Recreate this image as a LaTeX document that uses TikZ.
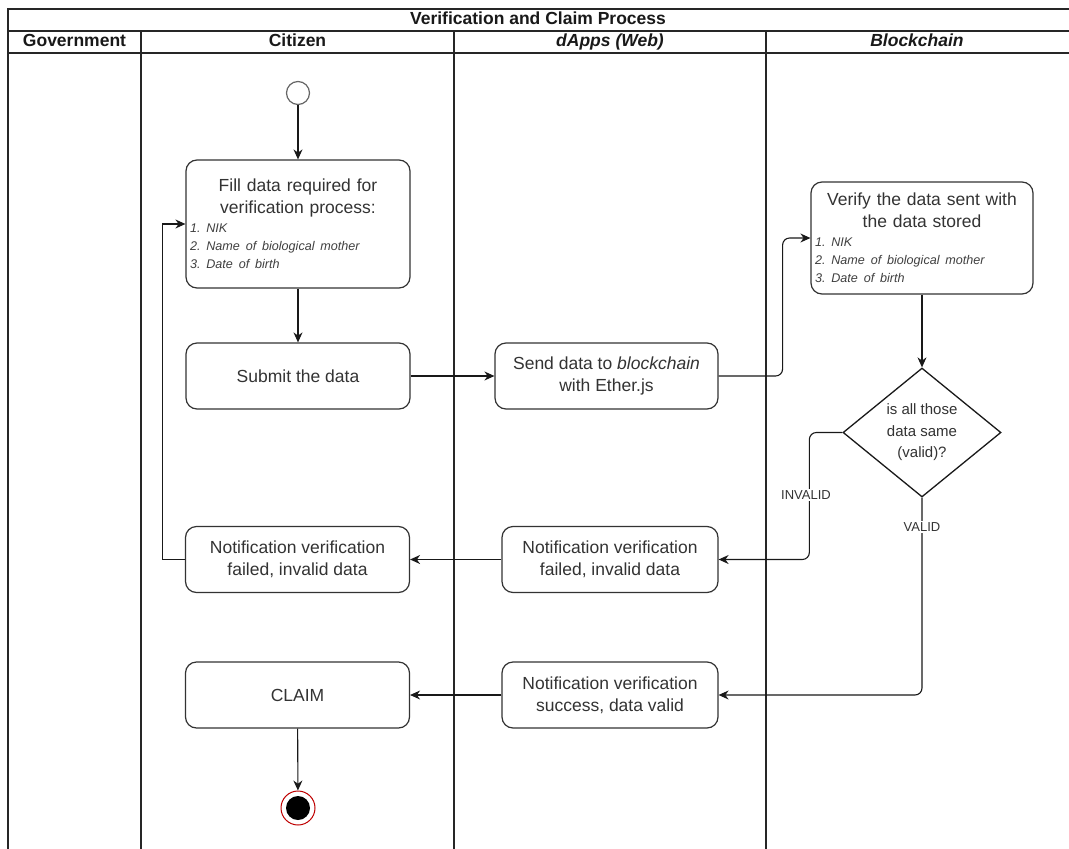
\documentclass[tikz,border=0pt]{standalone}
\usepackage{fontspec}
\setmainfont{Liberation Sans}
\usetikzlibrary{arrows.meta,shapes.geometric,calc}
\frenchspacing
\newcommand{\mainfs}{\fontsize{17.5}{22}\selectfont}
\newcommand{\itemfs}{\fontsize{12.6}{18.3}\selectfont\itshape\frenchspacing\color{black!75}}
\newcommand{\decfs}{\fontsize{15}{21.5}\selectfont}
\newcommand{\lblfs}{\fontsize{13}{15}\selectfont}
\definecolor{txt}{HTML}{333333}
\tikzset{
  lane/.style={draw=black!85, line width=1.1pt},
  box/.style={draw=black!80, line width=1.2pt, rounded corners=11pt, fill=white,
    text=txt, font=\mainfs, inner sep=4pt},
  smallbox/.style={box, minimum width=224pt, minimum height=66pt, align=center},
  conn/.style={draw=black!90, line width=1.1pt, -{Stealth[length=10pt,width=9pt]}},
  lbl/.style={font=\lblfs, text=txt, fill=white, inner sep=1.5pt},
  hdr/.style={font=\bfseries\mainfs, text=black!90, text height=12.5pt, text depth=3.5pt, inner sep=0pt},
}
\begin{document}
\begin{tikzpicture}[x=1pt,y=-1pt]
\useasboundingbox (0,0) rectangle (1069,849);
\fill[white] (0,0) rectangle (1069,849);
% swimlane frame
\draw[lane] (1069,9) -- (8,9) -- (8,849);
\draw[lane] (8,31) -- (1069,31);
\draw[lane] (8,53) -- (1069,53);
\draw[lane] (141,31) -- (141,849);
\draw[lane] (454,31) -- (454,849);
\draw[lane] (766,31) -- (766,849);
\node[hdr] (title) at (538,20) {Verification and Claim Process};
\node[hdr] (hgov) at (74.5,42) {Government};
\node[hdr] (hcit) at (297.5,42) {Citizen};
\node[hdr] (hdap) at (610,42) {\itshape dApps (Web)};
\node[hdr] (hbc) at (917,42) {\itshape Blockchain};
% nodes
\node[circle, draw=black!60, line width=1.2pt, fill=white, minimum size=23pt, inner sep=0] (start) at (298,93) {};
\node[box, text width=216pt, minimum height=128pt] (fill) at (298,224)
  {{\centering Fill data required for\\verification process:\par}%
   {\raggedright\itemfs 1. NIK\\2. Name of biological mother\\3. Date of birth\par}};
\node[smallbox] (submit) at (298,376) {Submit the data};
\node[smallbox, minimum width=223pt] (send) at (606.5,376) {Send data to \textit{blockchain}\\with Ether.js};
\node[box, text width=214pt, minimum height=112pt] (verify) at (922,238)
  {{\centering Verify the data sent with\\the data stored\par}%
   {\raggedright\itemfs 1. NIK\\2. Name of biological mother\\3. Date of birth\par}};
\node[diamond, draw=black!90, line width=1.3pt, fill=white, minimum width=158pt, minimum height=129pt,
  inner sep=0pt, align=center, font=\decfs, text=txt] (dec) at (922,432.5) {is all those\\data same\\(valid)?};
\node[smallbox, minimum width=216pt] (faild) at (610,559.5) {Notification verification\\failed, invalid data};
\node[smallbox] (failc) at (297.5,559.5) {Notification verification\\failed, invalid data};
\node[smallbox, minimum width=216pt] (succ) at (610,695) {Notification verification\\success, data valid};
\node[smallbox] (claim) at (297.5,695) {CLAIM};
\node[circle, draw=red!75!black, line width=1pt, fill=white, minimum size=34pt, inner sep=0] (end) at (298,808) {};
\node[circle, fill=black, minimum size=24pt, inner sep=0] (endin) at (end.center) {};
% connectors
\draw[conn] (start) -- (fill);
\draw[conn] (fill) -- (submit);
\draw[conn] (submit) -- (send);
\draw[conn, rounded corners=7pt] (send.east) -- ++(64,0) |- (verify.west);
\draw[conn] (verify) -- (dec);
\draw[conn, rounded corners=7pt] (dec.west) -- ++(-33,0) |- (faild.east);
\draw[conn, rounded corners=7pt] (dec.south) |- (succ.east);
\node[lbl] (linv) at (806,495) {INVALID};
\node[lbl] (lval) at (922,527) {VALID};
\draw[conn] (faild) -- (failc);
\draw[conn] (failc.west) -- ++(-22,0) |- (fill.west);
\draw[conn] (succ) -- (claim);
\draw[conn] (claim) -- (end);
\end{tikzpicture}
\end{document}
